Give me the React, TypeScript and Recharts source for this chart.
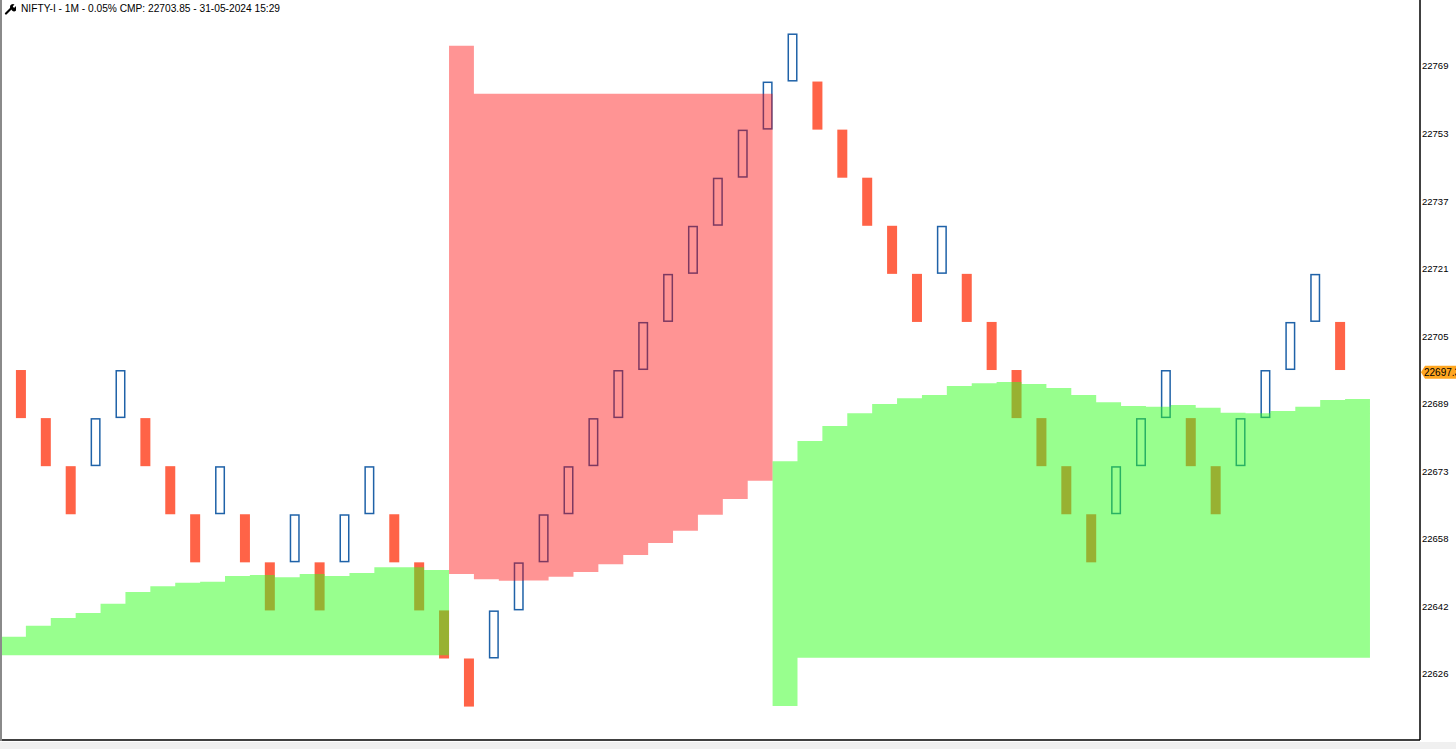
import React from 'react';
import {
  ComposedChart,
  Bar,
  Area,
  XAxis,
  YAxis,
  ReferenceLine,
} from 'recharts';

const TITLE = 'NIFTY-I - 1M - 0.05% CMP: 22703.85 - 31-05-2024 15:29';

// renko bricks (0.05% box), oldest first
const brickOpen = [
  22697.9, 22686.55, 22675.2, 22675.2, 22686.55, 22686.55, 22675.2, 22663.85, 22663.85, 22663.85,
  22652.5, 22652.5, 22652.5, 22652.5, 22663.85, 22663.85, 22652.5, 22641.15, 22629.8, 22629.8,
  22641.15, 22652.5, 22663.85, 22675.2, 22686.55, 22697.9, 22709.25, 22720.6, 22731.95, 22743.3,
  22754.65, 22766.0, 22766.0, 22754.65, 22743.3, 22731.95, 22720.6, 22720.6, 22720.6, 22709.25,
  22697.9, 22686.55, 22675.2, 22663.85, 22663.85, 22675.2, 22686.55, 22686.55, 22675.2, 22675.2,
  22686.55, 22697.9, 22709.25, 22709.25,
];
const brickClose = [
  22686.55, 22675.2, 22663.85, 22686.55, 22697.9, 22675.2, 22663.85, 22652.5, 22675.2, 22652.5,
  22641.15, 22663.85, 22641.15, 22663.85, 22675.2, 22652.5, 22641.15, 22629.8, 22618.45, 22641.15,
  22652.5, 22663.85, 22675.2, 22686.55, 22697.9, 22709.25, 22720.6, 22731.95, 22743.3, 22754.65,
  22766.0, 22777.35, 22754.65, 22743.3, 22731.95, 22720.6, 22709.25, 22731.95, 22709.25, 22697.9,
  22686.55, 22675.2, 22663.85, 22652.5, 22675.2, 22686.55, 22697.9, 22675.2, 22663.85, 22686.55,
  22697.9, 22709.25, 22720.6, 22697.9,
];

// band steps, one per brick slot
const bullBandAStart = 1;
const bullBandATop = [
  22634.94, 22637.54, 22639.36, 22640.54, 22642.73, 22645.5, 22646.84, 22647.69, 22647.93,
  22649.27, 22649.51, 22648.97, 22649.74, 22649.27, 22649.98, 22651.33, 22651.33, 22650.69,
];
const bullBandABase = [
  22630.55, 22630.55, 22630.55, 22630.55, 22630.55, 22630.55, 22630.55, 22630.55, 22630.55,
  22630.55, 22630.55, 22630.55, 22630.55, 22630.55, 22630.55, 22630.55, 22630.55, 22630.55,
];

const bearBandStart = 19;
const bearBandTop = [
  22774.46, 22763.13, 22763.13, 22763.13, 22763.13, 22763.13, 22763.13, 22763.13, 22763.13,
  22763.13, 22763.13, 22763.13, 22763.13,
];
const bearBandBase = [
  22649.74, 22648.49, 22648.16, 22648.21, 22649.11, 22650.22, 22652.03, 22654.23, 22657.06,
  22659.97, 22663.74, 22667.45, 22671.77,
];

const bullBandBStart = 32;
const bullBandBTop = [
  22676.35, 22681.14, 22684.68, 22687.68, 22689.88, 22691.22, 22692.0, 22694.13, 22694.76,
  22695.07, 22694.6, 22693.65, 22692.0, 22690.28, 22689.41, 22689.24, 22689.64, 22689.0,
  22687.82, 22687.68, 22688.22, 22689.24, 22690.82, 22691.06,
];
const bullBandBBase = [
  22618.58, 22629.99, 22629.99, 22629.99, 22629.99, 22629.99, 22629.99, 22629.99, 22629.99,
  22629.99, 22629.99, 22629.99, 22629.99, 22629.99, 22629.99, 22629.99, 22629.99, 22629.99,
  22629.99, 22629.99, 22629.99, 22629.99, 22629.99, 22629.99,
];

const priceTicks = [
  22769.67, 22753.72, 22737.77, 22721.82, 22705.87, 22689.92, 22673.97, 22658.02, 22642.07,
  22626.12,
];
const tagPrice = 22697.35;

const UP = '#1F62A8';
const DOWN = '#FF6347';
const FONT = '"Liberation Sans", Arial, sans-serif';
const STEP_SHIFT = 0.2; // band steps end at the brick's right edge
const BRICK_W = 10;

const bricks = brickOpen.map((o, i) => ({
  x: i + 1,
  range: [Math.min(o, brickClose[i]), Math.max(o, brickClose[i])],
  up: brickClose[i] > o,
}));

const bandPoints = (start: number, tops: number[], bases: number[]) => [
  { x: start - 1 + STEP_SHIFT, range: [bases[0], tops[0]] },
  ...tops.map((t, j) => ({ x: start + j + STEP_SHIFT, range: [bases[j], t] })),
];

const bullA = bandPoints(bullBandAStart, bullBandATop, bullBandABase);
const bear = bandPoints(bearBandStart, bearBandTop, bearBandBase);
const bullB = bandPoints(bullBandBStart, bullBandBTop, bullBandBBase);

// the band points squeeze the bar band, so draw the brick at its own width
// around the centre that the x scale gives
const Brick = (props: any) => {
  const { x, y, width, height, payload } = props;
  const cx = x + width / 2;
  const left = cx - BRICK_W / 2;
  const top = Math.min(y, y + height);
  const h = Math.abs(height);
  if (payload.up) {
    return (
      <rect
        x={left + 0.75}
        y={top + 0.75}
        width={BRICK_W - 1.5}
        height={h - 1.5}
        fill="none"
        stroke={UP}
        strokeWidth={1.5}
      />
    );
  }
  return <rect x={left} y={top} width={BRICK_W} height={h} fill={DOWN} />;
};

const PriceTag = ({ viewBox, text }: any) => {
  if (!viewBox) return null;
  const x = viewBox.x + viewBox.width;
  const y = viewBox.y;
  return (
    <g>
      <polygon
        points={`${x + 1},${y} ${x + 5},${y - 6.5} ${x + 40},${y - 6.5} ${x + 40},${y + 6.5} ${x + 5},${y + 6.5}`}
        fill="#FFA620"
      />
      <text x={x + 4} y={y + 3.5} fontSize={10} fontFamily={FONT} fill="#000">
        {text}
      </text>
    </g>
  );
};

const Wrench = () => (
  <svg width={12} height={12} style={{ position: 'absolute', left: 4, top: 3 }}>
    <path d="M2 10.5 L7 5.5" stroke="#000" strokeWidth={2.2} strokeLinecap="round" />
    <path d="M6 4.5 A3 3 0 0 1 10.5 1.5 L8.8 3.2 L9.2 4.3 L10.3 4.7 L12 3 A3 3 0 0 1 8 7.5 Z" fill="#000" />
  </svg>
);

export default function App() {
  return (
    <div
      style={{
        position: 'absolute',
        left: 0,
        top: 0,
        width: 1456,
        height: 749,
        background: '#fff',
        overflow: 'hidden',
      }}
    >
      <ComposedChart
        width={1456}
        height={749}
        data={bricks}
        margin={{ top: 0, right: 0, bottom: 0, left: 1 }}
      >
        <XAxis
          type="number"
          dataKey="x"
          domain={[0.2, 57.21]}
          allowDataOverflow
          height={9}
          tick={false}
          tickLine={false}
          axisLine={{ stroke: '#000', strokeWidth: 1.5 }}
        />
        <YAxis
          orientation="right"
          width={36}
          domain={[22610.56, 22785.25]}
          allowDataOverflow
          ticks={priceTicks}
          tickFormatter={(v: number) => String(Math.floor(v))}
          tickLine={false}
          tickSize={0}
          tickMargin={2}
          axisLine={{ stroke: '#000', strokeWidth: 1.5 }}
          tick={{ fontSize: 9.5, fill: '#000', fontFamily: FONT }}
        />
        <Bar
          dataKey="range"
          shape={Brick}
          isAnimationActive={false}
          zIndex={50}
        />
        <Area
          data={bullA}
          dataKey="range"
          type="stepBefore"
          fill="#32FF1E"
          fillOpacity={0.5}
          stroke="none"
          isAnimationActive={false}
          zIndex={100}
        />
        <Area
          data={bear}
          dataKey="range"
          type="stepBefore"
          fill="#FF0000"
          fillOpacity={0.42}
          stroke="none"
          isAnimationActive={false}
          zIndex={100}
        />
        <Area
          data={bullB}
          dataKey="range"
          type="stepBefore"
          fill="#32FF1E"
          fillOpacity={0.5}
          stroke="none"
          isAnimationActive={false}
          zIndex={100}
        />
        <ReferenceLine
          y={tagPrice}
          stroke="none"
          ifOverflow="visible"
          label={(p: any) => <PriceTag {...p} text={tagPrice.toFixed(2)} />}
        />
      </ComposedChart>
      <div
        style={{
          position: 'absolute',
          left: 0,
          top: 0,
          width: 2,
          height: 741,
          background: '#8a8a8a',
        }}
      />
      <div
        style={{
          position: 'absolute',
          left: 0,
          top: 742,
          width: 1456,
          height: 7,
          background: '#f0f0f0',
        }}
      />
      <Wrench />
      <div
        style={{
          position: 'absolute',
          left: 21,
          top: 2,
          fontFamily: FONT,
          fontSize: 10.2,
          lineHeight: '14px',
          color: '#000',
          whiteSpace: 'nowrap',
        }}
      >
        {TITLE}
      </div>
    </div>
  );
}
